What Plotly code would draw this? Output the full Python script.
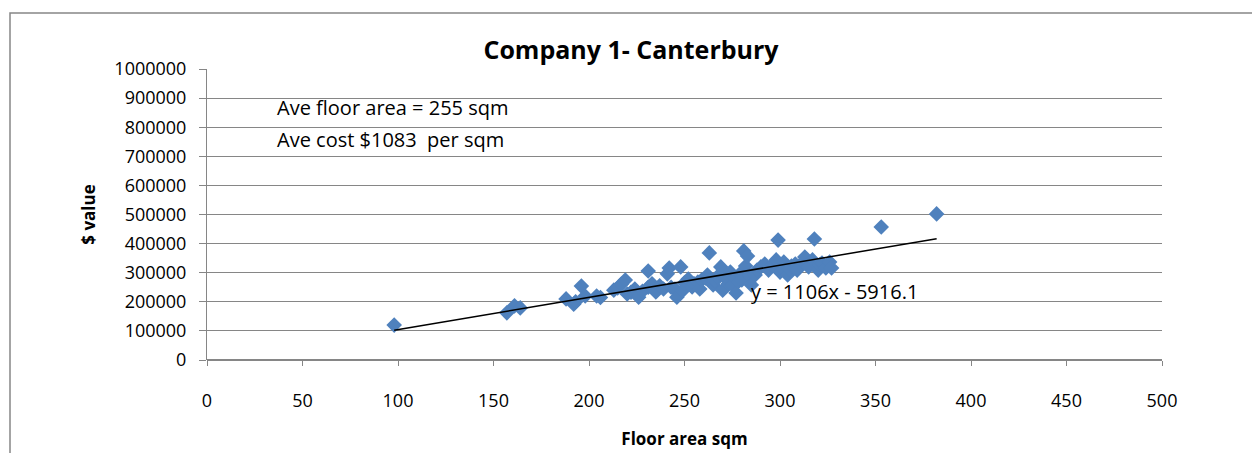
import plotly.graph_objects as go

floor_area = [98, 157, 161, 164, 188, 192, 193, 196, 198, 204, 206, 213, 215, 217, 219, 220,
              222, 224, 226, 228, 231, 231, 233, 235, 237, 239, 241, 242, 243, 245, 246, 248,
              249, 250, 252, 254, 255, 257, 258, 259, 261, 262, 263, 265, 266, 267, 269, 270,
              271, 272, 273, 274, 275, 276, 277, 278, 279, 280, 281, 282, 283, 284, 285, 287,
              288, 290, 292, 294, 296, 298, 299, 300, 301, 302, 304, 305, 306, 308, 309, 312,
              313, 315, 317, 318, 320, 321, 322, 324, 326, 327, 353, 382]
value = [120000, 162000, 186000, 179000, 210000, 192000, 200000, 254000, 220000, 220000, 215000, 240000, 248000, 261000, 275000, 227000,
         233000, 244000, 216000, 236000, 250000, 306000, 262000, 234000, 255000, 244000, 296000, 316000, 250000, 244000, 216000, 320000,
         238000, 265000, 278000, 251000, 262000, 268000, 244000, 275000, 282000, 292000, 368000, 258000, 272000, 285000, 320000, 240000,
         300000, 278000, 262000, 302000, 258000, 285000, 230000, 268000, 296000, 275000, 375000, 323000, 357000, 290000, 258000, 292000,
         309000, 320000, 330000, 309000, 326000, 344000, 412000, 302000, 318000, 337000, 292000, 311000, 323000, 330000, 309000, 337000,
         354000, 320000, 344000, 416000, 309000, 328000, 333000, 316000, 337000, 316000, 457000, 502000]

slope = 1106
intercept = -5916.1
x_ticks = [0, 50, 100, 150, 200, 250, 300, 350, 400, 450, 500]
y_ticks = [0, 100000, 200000, 300000, 400000, 500000, 600000, 700000, 800000, 900000, 1000000]

fit_x = [min(floor_area), max(floor_area)]
fit_y = [slope * v + intercept for v in fit_x]

fig = go.Figure()
fig.add_trace(go.Scatter(x=floor_area, y=value, mode="markers",
                         marker=dict(symbol="diamond", size=12, color="#4F81BD"),
                         showlegend=False, hoverinfo="x+y"))
fig.add_trace(go.Scatter(x=fit_x, y=fit_y, mode="lines",
                         line=dict(color="black", width=1.5), showlegend=False))

font_fam = "Open Sans, Lato, sans-serif"
fig.update_layout(
    width=1252, height=453,
    margin=dict(l=207, r=90, t=69, b=93),
    paper_bgcolor="white", plot_bgcolor="white",
    font=dict(family=font_fam, color="black"),
    title=dict(text="<b>Company 1- Canterbury</b>", x=0.444, xref="paper", xanchor="center",
               y=1 - 50 / 453, yref="container", yanchor="middle",
               font=dict(size=25, family=font_fam, color="black")),
    xaxis=dict(range=[0, 500], tickvals=x_ticks, showgrid=False, zeroline=False,
               ticks="outside", ticklen=5, tickcolor="#868686", showline=False,
               tickfont=dict(size=18), ticklabelstandoff=19, automargin=False,
               title=dict(text="<b>Floor area sqm</b>", font=dict(size=17), standoff=22)),
    yaxis=dict(range=[0, 1000000], tickvals=y_ticks, tickformat="d",
               showgrid=True, gridcolor="#868686", gridwidth=1,
               zeroline=True, zerolinecolor="#868686", zerolinewidth=2,
               showline=True, linecolor="#868686", linewidth=1,
               ticks="outside", ticklen=7, tickcolor="#868686",
               tickfont=dict(size=18), ticklabelstandoff=9, automargin=False,
               title=dict(text="<b>$ value</b>", font=dict(size=17), standoff=14)),
    annotations=[
        dict(x=35.6, y=866000, xref="x", yref="y", text="Ave floor area = 255 sqm",
             showarrow=False, xanchor="left", yanchor="middle", font=dict(size=20)),
        dict(x=35.6, y=759000, xref="x", yref="y", text="Ave cost $1083  per sqm",
             showarrow=False, xanchor="left", yanchor="middle", font=dict(size=20)),
        dict(x=284, y=234000, xref="x", yref="y", text="y = 1106x - 5916.1",
             showarrow=False, xanchor="left", yanchor="middle", font=dict(size=20)),
    ],
    shapes=[dict(type="rect", xref="paper", yref="paper",
                 x0=(10 - 207) / 955, x1=1.3, y0=-0.5, y1=(360 - 13) / 291,
                 line=dict(color="#868686", width=1.5), layer="below")],
)
fig.write_html("out.html")
